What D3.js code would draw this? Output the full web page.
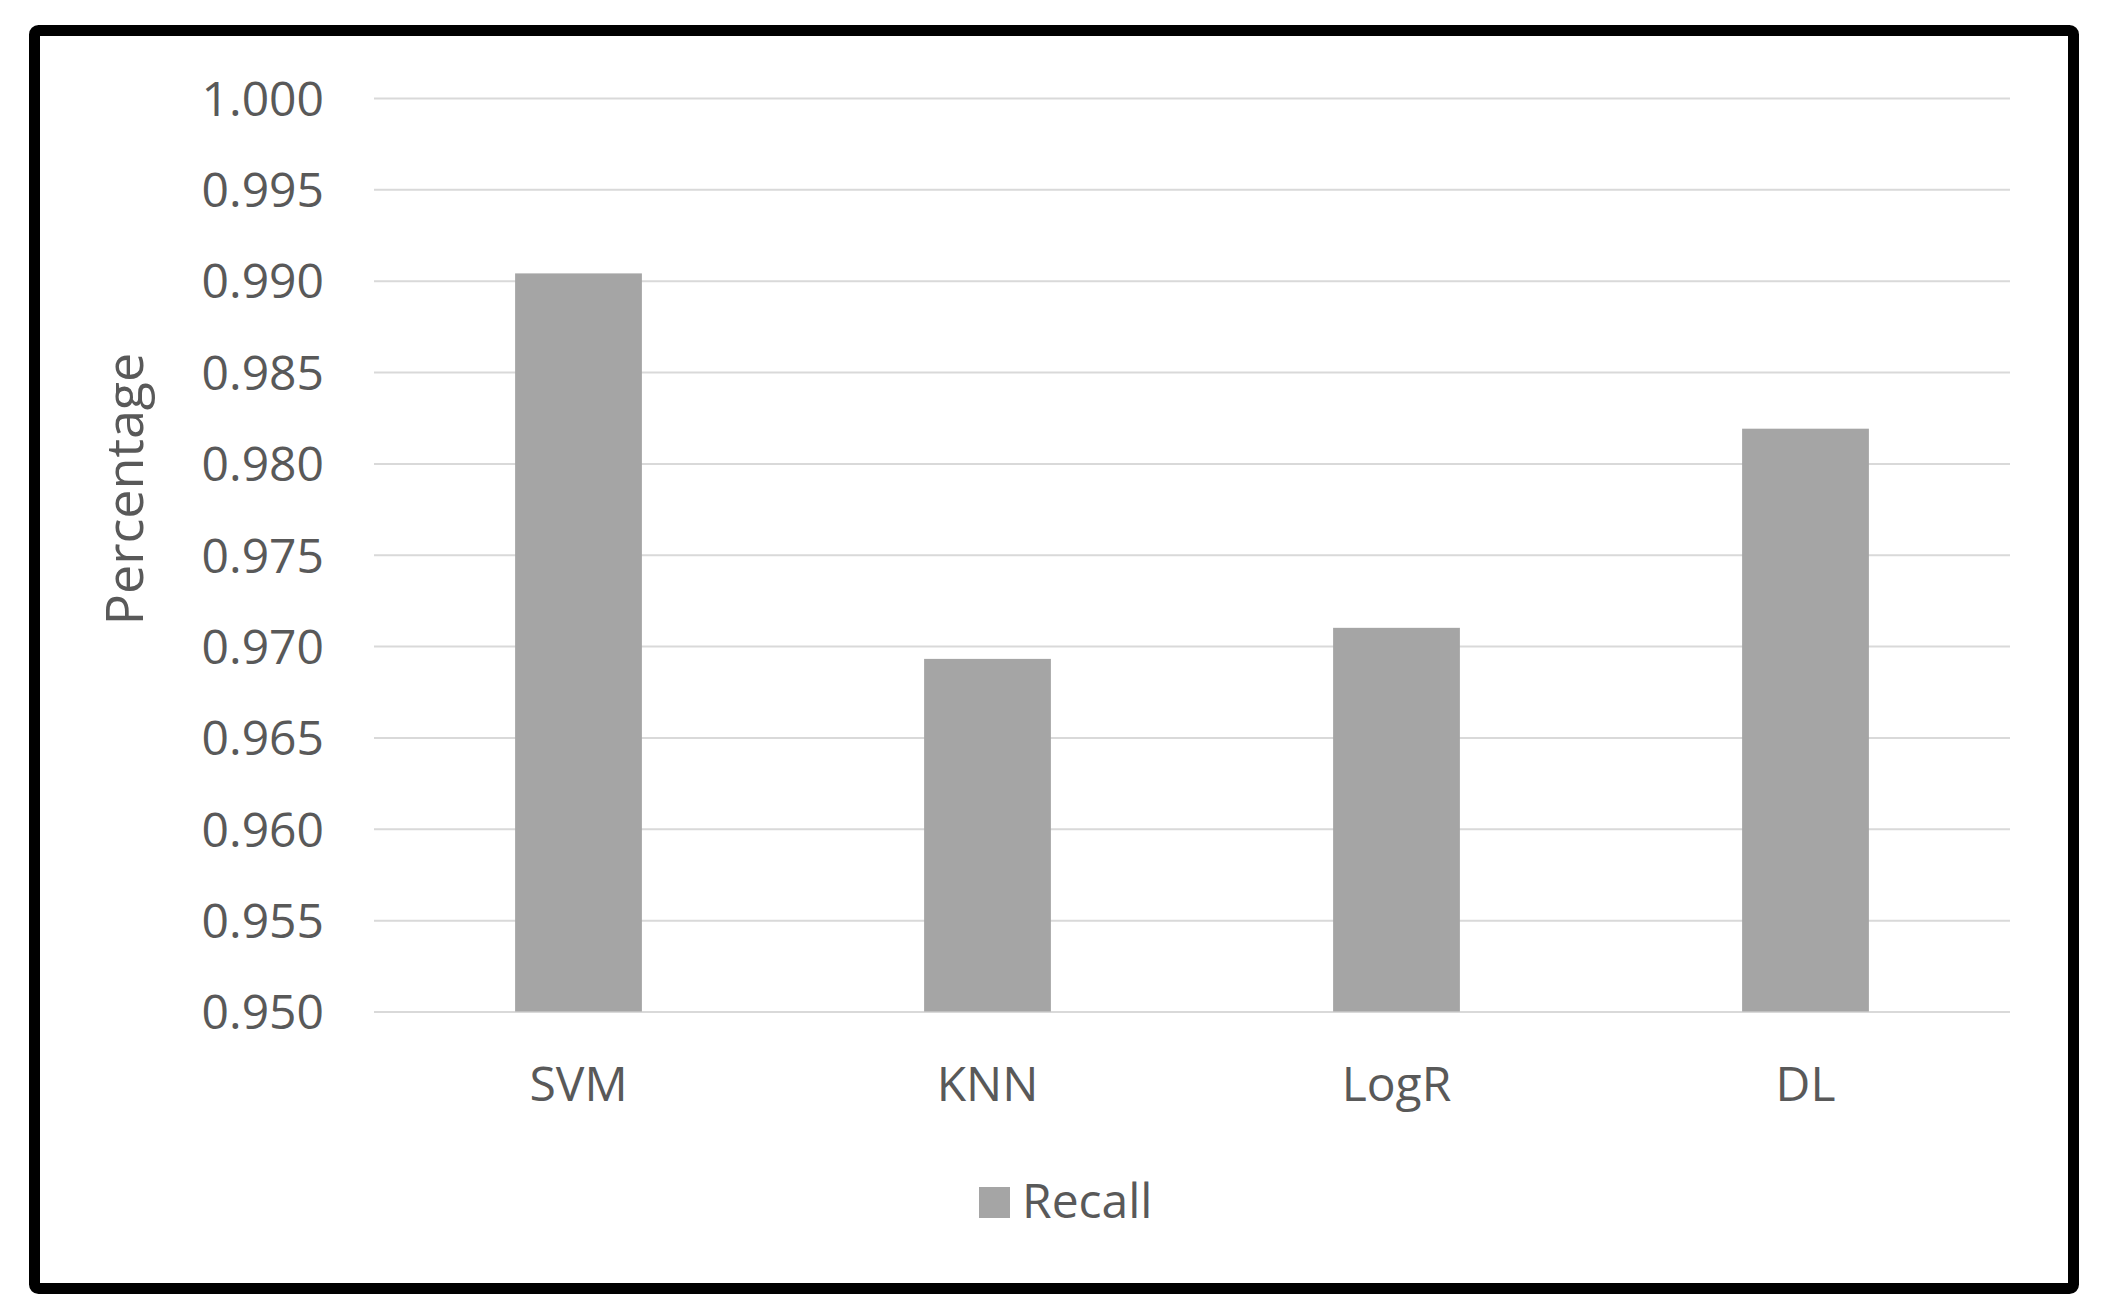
<!DOCTYPE html>
<html>
<head>
<meta charset="utf-8">
<script src="https://cdn.jsdelivr.net/npm/d3@7"></script>
<style>
  body { margin: 0; background: #fff; }
  svg { display: block; }
</style>
</head>
<body>
<div id="chart"></div>
<script>
// chart values
const categories = ["SVM", "KNN", "LogR", "DL"];
const recall = [0.9904, 0.9693, 0.9710, 0.9819];
const yTicks = [0.950, 0.955, 0.960, 0.965, 0.970, 0.975, 0.980, 0.985, 0.990, 0.995, 1.000];
const seriesName = "Recall";
const yTitle = "Percentage";

const W = 2101, H = 1314;
const font = "'Open Sans', 'DejaVu Sans', sans-serif";
const textColor = "#595959";
const barColor = "#a5a5a5";

const svg = d3.select("#chart")
    .append("svg")
    .attr("width", W)
    .attr("height", H);

// outer frame
svg.append("rect")
    .attr("x", 34.5)
    .attr("y", 30.5)
    .attr("width", 2039)
    .attr("height", 1258)
    .attr("rx", 4)
    .attr("fill", "none")
    .attr("stroke", "#000")
    .attr("stroke-width", 11);

const plotLeft = 374, plotRight = 2010, plotTop = 98, plotBottom = 1011.5;

const x = d3.scaleBand()
    .domain(categories)
    .range([plotLeft, plotRight])
    .paddingInner(0.69)
    .paddingOuter(0.345);

const y = d3.scaleLinear()
    .domain([0.95, 1.0])
    .range([plotBottom, plotTop]);

// gridlines + tick labels
const yAxis = svg.append("g")
    .attr("transform", `translate(${plotLeft},0)`)
    .call(d3.axisLeft(y)
        .tickValues(yTicks)
        .tickFormat(d3.format(".3f"))
        .tickSize(-(plotRight - plotLeft))
        .tickPadding(50));

yAxis.select(".domain").remove();
yAxis.selectAll(".tick line")
    .attr("stroke", "#d9d9d9")
    .attr("stroke-width", 2);
yAxis.selectAll(".tick text")
    .attr("fill", textColor)
    .attr("font-family", font)
    .attr("font-size", 48)
    .attr("dy", "0.36em");

// bars
svg.selectAll(".bar")
    .data(categories)
    .enter()
    .append("rect")
    .attr("class", "bar")
    .attr("x", d => x(d))
    .attr("width", x.bandwidth())
    .attr("y", (d, i) => y(recall[i]))
    .attr("height", (d, i) => y(0.95) - y(recall[i]))
    .attr("fill", barColor);

// category labels
const xAxis = svg.append("g")
    .attr("transform", `translate(0,${plotBottom})`)
    .call(d3.axisBottom(x).tickSize(0).tickPadding(55));
xAxis.select(".domain").remove();
xAxis.selectAll(".tick text")
    .attr("fill", textColor)
    .attr("font-family", font)
    .attr("font-size", 48);

// y title
svg.append("text")
    .attr("transform", "translate(143,489) rotate(-90)")
    .attr("text-anchor", "middle")
    .attr("fill", textColor)
    .attr("font-family", font)
    .attr("font-size", 52)
    .text(yTitle);

// legend
const legend = svg.append("g")
    .attr("transform", "translate(979,1187)");
legend.append("rect")
    .attr("width", 31)
    .attr("height", 31)
    .attr("fill", barColor);
legend.append("text")
    .attr("x", 43)
    .attr("y", 31)
    .attr("fill", textColor)
    .attr("font-family", font)
    .attr("font-size", 48)
    .text(seriesName);
</script>
</body>
</html>
